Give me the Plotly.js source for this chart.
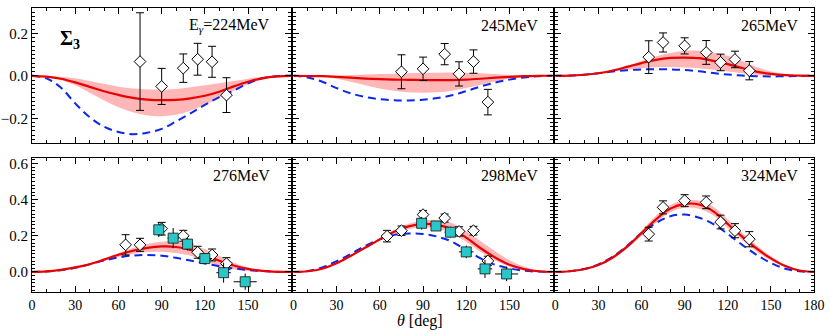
<!DOCTYPE html>
<html>
<head>
<meta charset="utf-8">
<script src="https://cdn.plot.ly/plotly-3.0.1.min.js"></script>
<style>html,body{margin:0;padding:0;background:#fff;}#chart{width:830px;height:332px;}</style>
</head>
<body>
<div id="chart"></div>
<script>
// ---------- data ----------
const theta = [0,10,20,30,40,50,60,70,80,90,100,110,120,130,140,150,160,170,180];
const energies = ['224','245','265','276','298','324'];

const red224  = [0,-0.004,-0.014,-0.031,-0.052,-0.073,-0.09,-0.104,-0.112,-0.115,-0.113,-0.106,-0.094,-0.075,-0.05,-0.028,-0.012,-0.003,0];
const lo224   = [0,-0.005,-0.02,-0.045,-0.08,-0.115,-0.148,-0.172,-0.187,-0.19,-0.183,-0.165,-0.138,-0.103,-0.07,-0.04,-0.017,-0.004,0];
const hi224   = [0,-0.001,-0.005,-0.012,-0.024,-0.038,-0.052,-0.06,-0.064,-0.065,-0.062,-0.054,-0.044,-0.035,-0.025,-0.014,-0.004,0.001,0];
const blue224 = [0,-0.012,-0.055,-0.13,-0.195,-0.24,-0.265,-0.275,-0.268,-0.25,-0.215,-0.177,-0.137,-0.1,-0.07,-0.035,-0.011,-0.002,0];

const red245  = [0,-0.001,-0.002,-0.005,-0.009,-0.013,-0.016,-0.018,-0.019,-0.02,-0.02,-0.02,-0.018,-0.014,-0.009,-0.005,-0.002,0,0];
const lo245   = [0,-0.001,-0.005,-0.014,-0.028,-0.045,-0.06,-0.07,-0.078,-0.08,-0.078,-0.07,-0.058,-0.042,-0.027,-0.013,-0.004,-0.001,0];
const hi245   = [0,0,0,0.002,0.004,0.006,0.008,0.01,0.012,0.013,0.014,0.015,0.014,0.012,0.008,0.004,0.002,0.001,0];
const blue245 = [0,-0.008,-0.028,-0.058,-0.083,-0.1,-0.11,-0.115,-0.116,-0.113,-0.105,-0.092,-0.072,-0.05,-0.032,-0.018,-0.008,-0.002,0];

const red265  = [0,0.001,0.005,0.012,0.025,0.042,0.06,0.075,0.084,0.086,0.083,0.07,0.055,0.037,0.02,0.009,0.003,0.001,0];
const lo265   = [0,0.001,0.004,0.01,0.019,0.029,0.036,0.04,0.041,0.039,0.035,0.028,0.02,0.012,0.005,0.002,0,0,0];
const hi265   = [0,0.001,0.006,0.014,0.029,0.048,0.07,0.092,0.108,0.117,0.118,0.11,0.094,0.07,0.042,0.02,0.008,0.002,0];
const blue265 = [0,0.001,0.005,0.012,0.02,0.026,0.03,0.031,0.03,0.027,0.021,0.013,0.006,0.001,-0.002,-0.003,-0.002,-0.001,0];

const red276  = [0,0.003,0.012,0.025,0.043,0.068,0.095,0.117,0.133,0.141,0.138,0.122,0.095,0.062,0.036,0.017,0.006,0.001,0];
const lo276   = [0,0.003,0.011,0.022,0.038,0.06,0.083,0.1,0.11,0.112,0.105,0.09,0.062,0.032,0.015,0.006,0.002,0,0];
const hi276   = [0,0.003,0.013,0.028,0.048,0.075,0.105,0.133,0.155,0.167,0.168,0.155,0.125,0.088,0.052,0.025,0.009,0.002,0];
const blue276 = [0,0.002,0.01,0.023,0.042,0.063,0.08,0.091,0.094,0.09,0.078,0.063,0.047,0.032,0.02,0.011,0.005,0.001,0];

const red298  = [0,0.004,0.018,0.048,0.09,0.135,0.18,0.222,0.252,0.265,0.26,0.236,0.19,0.131,0.08,0.04,0.016,0.004,0];
const lo298   = [0,0.004,0.017,0.046,0.087,0.13,0.174,0.213,0.238,0.247,0.24,0.212,0.165,0.11,0.063,0.03,0.011,0.003,0];
const hi298   = [0,0.004,0.019,0.05,0.093,0.14,0.188,0.233,0.267,0.285,0.288,0.27,0.225,0.17,0.115,0.065,0.03,0.008,0];
const blue298 = [0,0.005,0.025,0.06,0.1,0.145,0.18,0.205,0.213,0.21,0.195,0.168,0.12,0.075,0.04,0.02,0.007,0.002,0];

const red324  = [0,0.004,0.015,0.038,0.08,0.14,0.215,0.29,0.35,0.376,0.373,0.335,0.265,0.195,0.13,0.075,0.033,0.008,0];
const lo324   = [0,0.003,0.013,0.034,0.073,0.13,0.2,0.272,0.33,0.355,0.35,0.312,0.243,0.175,0.113,0.063,0.026,0.006,0];
const hi324   = [0,0.005,0.017,0.042,0.087,0.15,0.228,0.31,0.37,0.397,0.395,0.36,0.29,0.217,0.148,0.087,0.04,0.01,0];
const blue324 = [0,0.004,0.016,0.042,0.085,0.145,0.215,0.27,0.308,0.317,0.3,0.265,0.21,0.15,0.095,0.05,0.018,0.004,0];

// open diamonds
const expTh6 = [75,90,105,115,125,135];
const expTh7 = [65,75,90,105,115,125,135];
const exp224 = [0.067,-0.05,0.036,0.078,0.066,-0.091];
const err224 = [0.23,0.085,0.067,0.075,0.073,0.082];
const exp245 = [0.019,0.033,0.102,0.009,0.067,-0.124];
const err245 = [0.08,0.055,0.05,0.057,0.055,0.06];
const exp265 = [0.088,0.157,0.141,0.11,0.063,0.077,0.024];
const err265 = [0.077,0.045,0.038,0.056,0.039,0.039,0.043];
const exp276 = [0.15,0.15,0.239,0.2,0.109,0.094,0.046];
const err276 = [0.056,0.036,0.035,0.03,0.033,0.033,0.033];
const exp298 = [0.198,0.228,0.317,0.298,0.224,0.228,0.061];
const err298 = [0.032,0.026,0.022,0.022,0.026,0.024,0.026];
const exp324 = [0.209,0.357,0.394,0.385,0.276,0.228,0.181];
const err324 = [0.038,0.036,0.033,0.035,0.038,0.039,0.042];

// cyan squares
const sqTh276 = [88,98,108,120,133,148];
const sq276   = [0.233,0.187,0.154,0.074,-0.004,-0.054];
const sqErr276 = [0.04,0.056,0.035,0.03,0.055,0.045];
const sqTh298 = [89,99,109,120,133,148];
const sq298   = [0.269,0.254,0.22,0.111,0.017,-0.011];
const sqErr298 = [0.035,0.025,0.03,0.035,0.05,0.04];
const sqThErr = [3,4,4,5,5,8];

const xTicks = [0,30,60,90,120,150,180];
const xTicksCut = [0,30,60,90,120,150];
const yTicksTop = [-0.2,0,0.2];
const yTicksBot = [0,0.2,0.4,0.6];

// ---------- build ----------
const panels = [
  {red:red224, lo:lo224, hi:hi224, blue:blue224, eth:expTh6, ev:exp224, ee:err224},
  {red:red245, lo:lo245, hi:hi245, blue:blue245, eth:expTh6, ev:exp245, ee:err245},
  {red:red265, lo:lo265, hi:hi265, blue:blue265, eth:expTh7, ev:exp265, ee:err265},
  {red:red276, lo:lo276, hi:hi276, blue:blue276, eth:expTh7, ev:exp276, ee:err276, sth:sqTh276, sv:sq276, se:sqErr276},
  {red:red298, lo:lo298, hi:hi298, blue:blue298, eth:expTh7, ev:exp298, ee:err298, sth:sqTh298, sv:sq298, se:sqErr298},
  {red:red324, lo:lo324, hi:hi324, blue:blue324, eth:expTh7, ev:exp324, ee:err324}
];

const W = 830, H = 332;
const xPix = [[32,291.3],[293.4,552.7],[555.3,814]];
const yPix = [[8.3,143.3],[157.6,291.7]];
const FONT = '"Liberation Serif","Times New Roman",Times,serif';

const data = [];
const layout = {
  width: W, height: H, margin:{l:0,r:0,t:0,b:0},
  paper_bgcolor:'#fff', plot_bgcolor:'#fff', showlegend:false,
  font:{family:FONT, size:15, color:'#000'},
  annotations:[]
};

panels.forEach((p,i)=>{
  const n = i+1;
  const xa = n===1 ? 'x' : 'x'+n, ya = n===1 ? 'y' : 'y'+n;
  const row = Math.floor(i/3), col = i%3;
  const common = {xaxis:xa, yaxis:ya, x:theta, mode:'lines', hoverinfo:'skip'};
  data.push(Object.assign({}, common, {y:p.lo, line:{width:0, shape:'spline', color:'rgba(0,0,0,0)'}}));
  data.push(Object.assign({}, common, {y:p.hi, fill:'tonexty', fillcolor:'rgb(255,182,182)', line:{width:0, shape:'spline', color:'rgba(0,0,0,0)'}}));
  data.push(Object.assign({}, common, {y:p.blue, line:{width:2, shape:'spline', color:'rgb(10,40,235)', dash:'8px,5px'}}));
  data.push(Object.assign({}, common, {y:p.red, line:{width:2.2, shape:'spline', color:'rgb(235,0,0)'}}));
  data.push({xaxis:xa, yaxis:ya, x:p.eth, y:p.ev, mode:'markers',
    marker:{symbol:'diamond', size:9, color:'#fff', line:{color:'#000', width:1}},
    error_y:{type:'data', array:p.ee, visible:true, color:'#000', thickness:1, width:4}});
  if (p.sth) {
    data.push({xaxis:xa, yaxis:ya, x:p.sth, y:p.sv, mode:'markers',
      marker:{symbol:'square', size:10, color:'rgb(40,200,200)', line:{color:'#111', width:0.8}},
      error_y:{type:'data', array:p.se, visible:true, color:'#000', thickness:1, width:0},
      error_x:{type:'data', array:sqThErr, visible:true, color:'#000', thickness:1, width:0}});
  }
  const xd = [xPix[col][0]/W, xPix[col][1]/W];
  const yd = [1 - yPix[row][1]/H, 1 - yPix[row][0]/H];
  const xKey = n===1 ? 'xaxis' : 'xaxis'+n, yKey = n===1 ? 'yaxis' : 'yaxis'+n;
  layout[xKey] = {
    domain:xd, anchor:ya, range:[0,180], tickmode:'array',
    tickvals: col===2 ? xTicks : xTicksCut,
    showticklabels: row===1, ticks:'inside', ticklen:6, tickwidth:1, tickcolor:'#000',
    minor:{tickmode:'linear', tick0:0, dtick:10, ticks:'inside', ticklen:3, tickwidth:1, tickcolor:'#000'},
    showline:true, linecolor:'#000', linewidth:1, mirror:'allticks',
    showgrid:false, zeroline:false, fixedrange:true,
    tickfont:{family:FONT, size:14, color:'#000'}
  };
  layout[yKey] = {
    domain:yd, anchor:xa,
    range: row===0 ? [-0.318,0.318] : [-0.109,0.632],
    tickmode:'array', tickvals: row===0 ? yTicksTop : yTicksBot, tickformat:'.1f',
    showticklabels: col===0, ticks:'inside', ticklen:6, tickwidth:1, tickcolor:'#000',
    minor:{tickmode:'linear', tick0:0, dtick:0.02, ticks:'inside', ticklen:3, tickwidth:1, tickcolor:'#000'},
    showline:true, linecolor:'#000', linewidth:1, mirror:'allticks',
    showgrid:false, zeroline:false, fixedrange:true,
    tickfont:{family:FONT, size:15, color:'#000'}
  };
  const label = n===1 ? 'E<sub><i>γ</i></sub>=224MeV' : energies[i]+'MeV';
  const rightPx = [272,540,800][col];
  const yPx = row===0 ? 25 : 175;
  layout.annotations.push({xref:'paper', yref:'paper', x:rightPx/W, y:1-yPx/H,
    xanchor:'right', yanchor:'middle', showarrow:false, text:label,
    font:{family:FONT, size:16, color:'#000'}});
});

layout.annotations.push({xref:'paper', yref:'paper', x:58/W, y:1-39/H, xanchor:'left', yanchor:'middle',
  showarrow:false, text:'<b>Σ<sub>3</sub></b>', font:{family:FONT, size:20, color:'#000'}});
layout.annotations.push({xref:'paper', yref:'paper', x:420/W, y:1-321/H, xanchor:'center', yanchor:'middle',
  showarrow:false, text:'<i>θ</i> [deg]', font:{family:FONT, size:16, color:'#000'}});

Plotly.newPlot('chart', data, layout, {staticPlot:true, displayModeBar:false});
</script>
</body>
</html>
